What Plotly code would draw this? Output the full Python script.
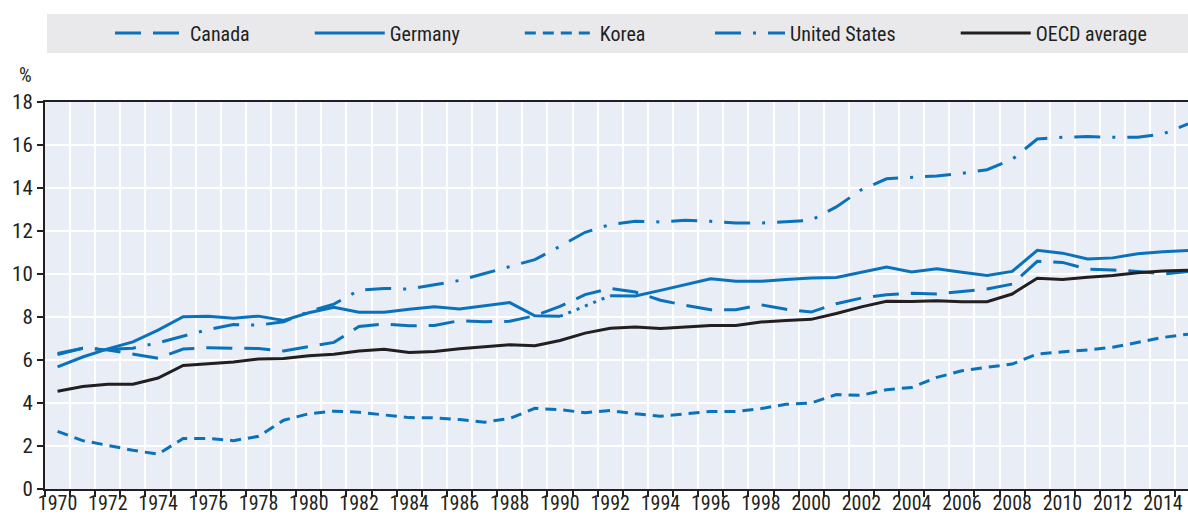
import plotly.graph_objects as go

years = list(range(1970, 2016))

canada = [6.25, 6.55, 6.47, 6.27, 6.08, 6.51, 6.57, 6.55, 6.53, 6.42,
          6.62, 6.82, 7.56, 7.67, 7.59, 7.61, 7.83, 7.78, 7.80, 8.06,
          8.49, 9.04, 9.33, 9.16, 8.78, 8.54, 8.34, 8.34, 8.57, 8.36,
          8.23, 8.62, 8.88, 9.04, 9.10, 9.07, 9.19, 9.30, 9.53, 10.59,
          10.54, 10.23, 10.19, 10.12, 10.00, 10.12]

germany = [5.68, 6.14, 6.52, 6.84, 7.39, 8.01, 8.03, 7.94, 8.04, 7.84,
           8.20, 8.45, 8.22, 8.22, 8.36, 8.48, 8.37, 8.51, 8.67, 8.06,
           8.03, None, 8.99, 8.98, 9.24, 9.50, 9.78, 9.66, 9.66, 9.74,
           9.81, 9.84, 10.09, 10.33, 10.09, 10.24, 10.08, 9.93, 10.12, 11.10,
           10.97, 10.70, 10.75, 10.94, 11.04, 11.09]

korea = [2.68, 2.25, 2.03, 1.80, 1.62, 2.35, 2.35, 2.25, 2.45, 3.20,
         3.50, 3.62, 3.57, 3.43, 3.32, 3.31, 3.23, 3.11, 3.28, 3.75,
         3.69, 3.55, 3.65, 3.50, 3.38, 3.50, 3.61, 3.61, 3.74, 3.94,
         4.00, 4.39, 4.36, 4.62, 4.72, 5.19, 5.50, 5.66, 5.81, 6.28,
         6.36, 6.47, 6.59, 6.82, 7.05, 7.20]

united_states = [6.30, 6.55, 6.50, 6.55, 6.80, 7.10, 7.42, 7.65, 7.62, 7.78,
                 8.25, 8.60, 9.25, 9.33, 9.30, 9.50, 9.70, 10.02, 10.33, 10.67,
                 11.29, 11.94, 12.30, 12.45, 12.42, 12.50, 12.45, 12.37, 12.37, 12.42,
                 12.50, 13.12, 13.92, 14.43, 14.51, 14.56, 14.68, 14.85, 15.33, 16.28,
                 16.36, 16.39, 16.36, 16.36, 16.51, 16.98]

oecd_average = [4.55, 4.77, 4.87, 4.87, 5.16, 5.75, 5.83, 5.91, 6.05, 6.07,
                6.20, 6.27, 6.42, 6.50, 6.35, 6.40, 6.52, 6.60, 6.71, 6.66,
                6.91, 7.25, 7.48, 7.53, 7.46, 7.53, 7.61, 7.61, 7.77, 7.84,
                7.89, 8.16, 8.47, 8.73, 8.72, 8.76, 8.71, 8.71, 9.07, 9.80,
                9.74, 9.85, 9.93, 10.06, 10.14, 10.18]

tick_years = list(range(1970, 2015, 2))
tick_labels = [str(y) for y in tick_years]
y_ticks = list(range(0, 19, 2))

BLUE = "#0a72ba"
BLACK = "#231f20"
FONT = "Liberation Sans Narrow, Arial Narrow, Roboto Condensed, Liberation Sans, sans-serif"
PAD = "\u00a0" * 12  # spacing between legend entries

fig = go.Figure()

# dotted connector for Germany (break 1990 -> 1992)
i0 = years.index(1990)
i1 = years.index(1992)
fig.add_trace(go.Scatter(x=[years[i0], years[i1]], y=[germany[i0], germany[i1]],
                         mode="lines", line=dict(color=BLUE, width=3, dash="3px,6px"),
                         showlegend=False, hoverinfo="skip"))

fig.add_trace(go.Scatter(x=years, y=canada, name="Canada" + PAD, mode="lines",
                         line=dict(color=BLUE, width=3, dash="26px,12px")))
fig.add_trace(go.Scatter(x=years, y=germany, name="Germany" + PAD, mode="lines",
                         connectgaps=False, line=dict(color=BLUE, width=3)))
fig.add_trace(go.Scatter(x=years, y=korea, name="Korea" + "\u00a0" * 13, mode="lines",
                         line=dict(color=BLUE, width=3, dash="11px,7px")))
fig.add_trace(go.Scatter(x=years, y=united_states, name="United States" + PAD, mode="lines",
                         line=dict(color=BLUE, width=3, dash="26px,12px,3px,12px")))
fig.add_trace(go.Scatter(x=years, y=oecd_average, name="OECD average", mode="lines",
                         line=dict(color=BLACK, width=3)))

L, T, B = 45, 102, 25
W, H = 1188, 514
plot_h = H - T - B
plot_w = W - L

fig.update_layout(
    width=W, height=H,
    margin=dict(l=L, r=0, t=T, b=B, pad=0, autoexpand=False),
    paper_bgcolor="white",
    plot_bgcolor="#e8edf6",
    font=dict(family=FONT, size=20, color="#231f20"),
    showlegend=True,
    legend=dict(orientation="h", x=(110 - L) / plot_w, xanchor="left",
                y=(H - B - 33) / plot_h, yanchor="middle",
                bgcolor="rgba(0,0,0,0)", itemwidth=70,
                font=dict(family=FONT, size=20, color="#231f20")),
    shapes=[dict(type="rect", xref="paper", yref="paper",
                 x0=(47 - L) / plot_w, x1=1.0,
                 y0=(H - B - 53) / plot_h, y1=(H - B - 14) / plot_h,
                 fillcolor="#e9e9eb", line=dict(width=0), layer="below")],
    annotations=[dict(text="%", xref="paper", yref="paper",
                      x=(25 - L) / plot_w, y=(H - B - 75) / plot_h,
                      showarrow=False, xanchor="center", yanchor="middle",
                      font=dict(family=FONT, size=20, color="#231f20"))],
)

fig.update_xaxes(
    range=[1969.5, 2015.0], automargin=False,
    tickmode="array", tickvals=tick_years, ticktext=tick_labels,
    ticks="", ticklen=0, ticklabelstandoff=-5, showgrid=False, zeroline=False,
    showline=True, linecolor=BLACK, linewidth=2, mirror=True,
    tickfont=dict(family=FONT, size=20, color="#231f20"),
    minor=dict(tick0=1970.5, dtick=1, ticks="outside", ticklen=6,
               tickcolor=BLACK, tickwidth=1.5,
               showgrid=True, gridcolor="white", gridwidth=2),
)
fig.update_yaxes(
    range=[0, 18], tickmode="array", tickvals=y_ticks, automargin=False,
    ticks="outside", ticklen=6, tickcolor=BLACK, tickwidth=1.5,
    showgrid=True, gridcolor="white", gridwidth=2, zeroline=False,
    showline=True, linecolor=BLACK, linewidth=2,
    tickfont=dict(family=FONT, size=21, color="#231f20"),
)

fig.write_html("out.html", config={"displayModeBar": False},
               post_script="document.body.style.margin='0';document.body.style.padding='0';")
